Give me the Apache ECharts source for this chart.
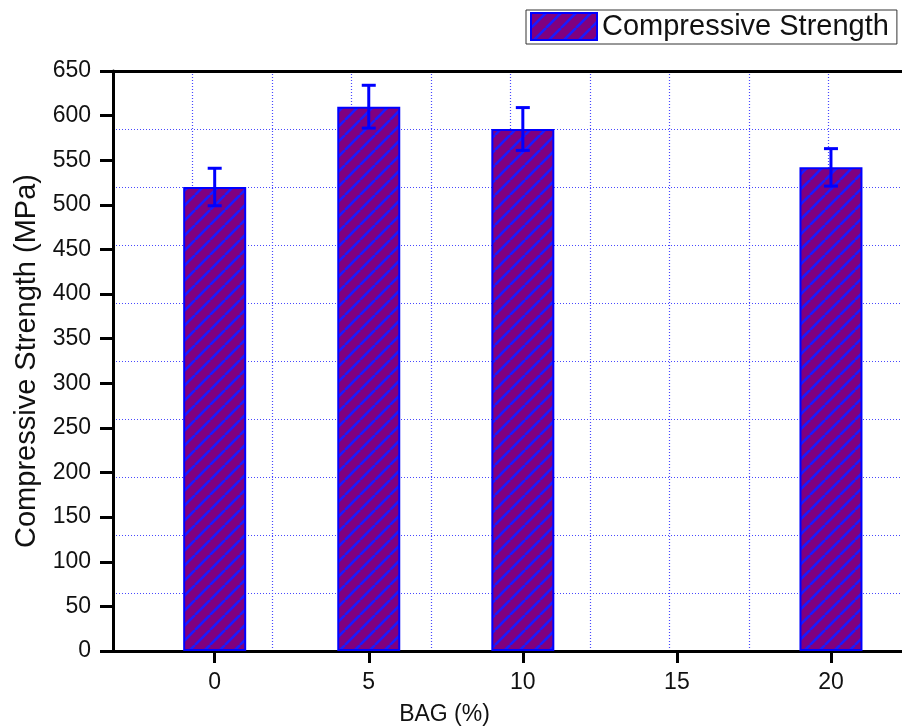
<!DOCTYPE html>
<html>
<head>
<meta charset="utf-8">
<script src="https://cdn.jsdelivr.net/npm/echarts@6/dist/echarts.min.js"></script>
<style>
html,body{margin:0;padding:0;background:#fff;}
#main{width:902px;height:726px;}
</style>
</head>
<body>
<div id="main"></div>
<script>
// data
var bagPct=[0,5,10,20];
var strength=[520,610,585,542];
var errBar=[21,24,24,21];
var xTicks=[0,5,10,15,20];

// hatched fill: purple with blue "/" lines
function hatch()
{
    var c=document.createElement('canvas');
    c.width=15;c.height=15;
    var ctx=c.getContext('2d');
    ctx.fillStyle='#800080';
    ctx.fillRect(0,0,15,15);
    ctx.strokeStyle='#1a1aff';
    ctx.lineWidth=2.6;
    for(var k=-15;k<=15;k+=15)
    {
        ctx.beginPath();
        ctx.moveTo(k,15);
        ctx.lineTo(k+15,0);
        ctx.stroke();
    }
    return c;
}
var fill={image:hatch(),repeat:'repeat'};

var barData=[],errData=[];
for(var i=0;i<bagPct.length;i++)
{
    barData.push([bagPct[i],strength[i]]);
    errData.push([bagPct[i],strength[i]-errBar[i],strength[i]+errBar[i]]);
}

var font='Liberation Sans';
var grid='#4848ff';

var myChart=echarts.init(document.getElementById('main'));
var option={
    backgroundColor:'#fff',
    animation:false,
    legend:{
        left:526,top:10,
        padding:[2,8,3,4],
        itemWidth:66,itemHeight:27,
        itemGap:6,
        borderColor:'#333',borderWidth:1,
        backgroundColor:'#fff',
        textStyle:{fontFamily:font,fontSize:29,color:'#111'},
        data:[{name:'Compressive Strength',icon:'rect',
            itemStyle:{color:fill,borderColor:'#0000ff',borderWidth:2}}]
    },
    grid:{left:113,right:-6,top:71,bottom:75,outerBoundsMode:'none',containLabel:false},
    xAxis:[{
        type:'value',min:-3.3,max:22.5,
        name:'BAG (%)',nameLocation:'middle',nameGap:52,
        nameTextStyle:{fontFamily:font,fontSize:23,color:'#111',padding:[0,132,0,0]},
        axisLine:{show:true,onZero:false,lineStyle:{color:'#000',width:3}},
        axisTick:{show:true,customValues:xTicks,length:12,lineStyle:{color:'#000',width:3}},
        axisLabel:{customValues:xTicks,margin:20,fontFamily:font,fontSize:23,color:'#111'},
        splitLine:{show:false}
    },{
        type:'value',position:'top',min:0,max:10,interval:1,
        axisLine:{show:true,onZero:false,lineStyle:{color:'#000',width:3}},
        axisTick:{show:false},axisLabel:{show:false},
        splitLine:{show:true,lineStyle:{color:grid,type:[1,2],width:1.2}}
    }],
    yAxis:[{
        type:'value',min:0,max:650,interval:50,
        name:'Compressive Strength (MPa)',nameLocation:'middle',nameGap:70,
        nameTextStyle:{fontFamily:font,fontSize:29,color:'#111'},
        axisLine:{show:true,onZero:false,lineStyle:{color:'#000',width:3}},
        axisTick:{show:true,length:13,lineStyle:{color:'#000',width:3}},
        axisLabel:{margin:22,fontFamily:font,fontSize:23,color:'#111'},
        splitLine:{show:false}
    },{
        type:'value',position:'right',min:0,max:650,interval:65,
        axisLine:{show:true,onZero:false,lineStyle:{color:'#000',width:3}},
        axisTick:{show:false},axisLabel:{show:false},
        splitLine:{show:true,lineStyle:{color:grid,type:[1,2],width:1.2}}
    }],
    series:[{
        name:'Compressive Strength',
        type:'bar',
        xAxisIndex:0,yAxisIndex:0,
        barWidth:63,
        itemStyle:{color:fill,borderColor:'#0000ff',borderWidth:2},
        data:barData,
        z:3
    },{
        name:'err',
        type:'custom',
        xAxisIndex:0,yAxisIndex:0,
        z:4,
        renderItem:function(params,api){
            var top=api.coord([api.value(0),api.value(2)]);
            var bot=api.coord([api.value(0),api.value(1)]);
            var hw=7;
            var st={stroke:'#0000ff',lineWidth:3};
            return {type:'group',children:[
                {type:'line',shape:{x1:top[0],y1:top[1],x2:bot[0],y2:bot[1]},style:st},
                {type:'line',shape:{x1:top[0]-hw,y1:top[1],x2:top[0]+hw,y2:top[1]},style:st},
                {type:'line',shape:{x1:bot[0]-hw,y1:bot[1],x2:bot[0]+hw,y2:bot[1]},style:st}
            ]};
        },
        encode:{x:0,y:[1,2]},
        data:errData
    }]
};
myChart.setOption(option);
</script>
</body>
</html>
